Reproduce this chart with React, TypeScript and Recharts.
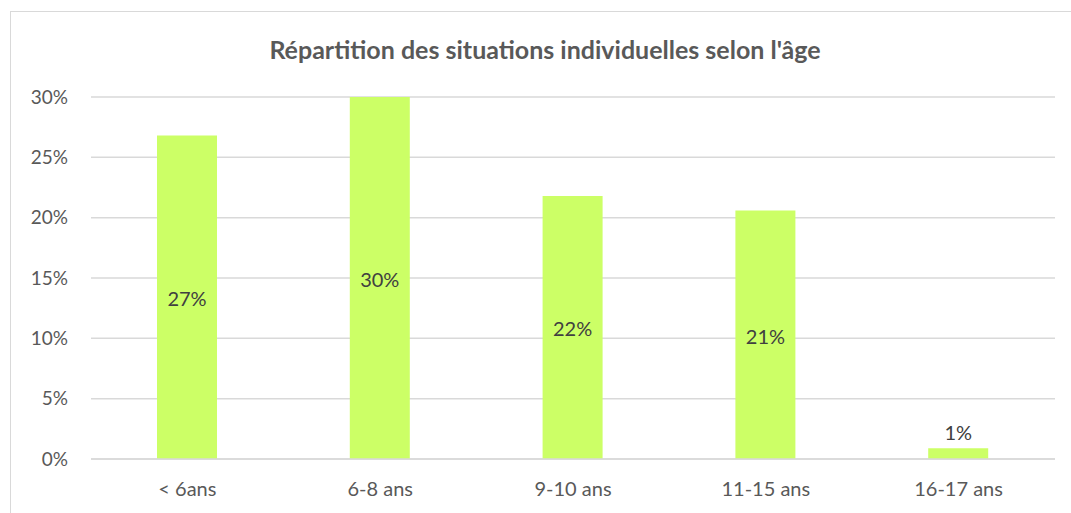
import { Bar, BarChart, CartesianGrid, LabelList, XAxis, YAxis } from "recharts";

const categories = ["< 6ans", "6-8 ans", "9-10 ans", "11-15 ans", "16-17 ans"];
const shares = [0.268, 0.3, 0.218, 0.206, 0.009];
const yTicks = [0, 0.05, 0.1, 0.15, 0.2, 0.25, 0.3];

const data = categories.map((age, i) => ({ age, part: shares[i] }));

const pct = (v: number) => `${Math.round(v * 100)}%`;
const FONT = "Lato, 'Open Sans', sans-serif";
const TEXT = "#595959";

function BarLabel(props: any) {
  const { x, y, width, height, value } = props;
  const inside = height > 30;
  return (
    <text
      x={x + width / 2}
      y={inside ? y + height / 2 + 1 : y - 16}
      textAnchor="middle"
      dominantBaseline="central"
      fill="#404040"
      fontSize={20}
      fontFamily={FONT}
    >
      {pct(value)}
    </text>
  );
}

export default function App() {
  return (
    <div style={{ position: "absolute", left: 0, top: 0, width: 1071, height: 513, background: "#fff", overflow: "hidden" }}>
      <div
        style={{
          position: "absolute",
          left: 10,
          top: 11,
          width: 1070,
          height: 520,
          border: "1px solid #d9d9d9",
        }}
      />
      <div
        style={{
          position: "absolute",
          left: 10,
          width: 1070,
          top: 34,
          textAlign: "center",
          fontFamily: FONT,
          fontWeight: 700,
          fontSize: 25,
          color: TEXT,
        }}
      >
        Répartition des situations individuelles selon l'âge
      </div>
      <div style={{ position: "absolute", left: 0, top: 0 }}>
        <BarChart width={1071} height={513} data={data} margin={{ top: 97, right: 16, left: 0, bottom: 24 }}>
          <CartesianGrid vertical={false} stroke="#d9d9d9" strokeWidth={1.5} />
          <XAxis
            dataKey="age"
            tick={{ fontSize: 20, fill: TEXT, fontFamily: FONT }}
            axisLine={{ stroke: "#d9d9d9", strokeWidth: 1.5 }}
            tickLine={false}
            tickMargin={17}
          />
          <YAxis
            domain={[0, 0.3]}
            ticks={yTicks}
            tickFormatter={pct}
            tick={{ fontSize: 19, fill: TEXT, fontFamily: FONT }}
            axisLine={false}
            tickLine={false}
            tickMargin={17}
            width={91}
          />
          <Bar dataKey="part" fill="#ccff66" barSize={60} isAnimationActive={false}>
            <LabelList dataKey="part" content={<BarLabel />} />
          </Bar>
        </BarChart>
      </div>
    </div>
  );
}
